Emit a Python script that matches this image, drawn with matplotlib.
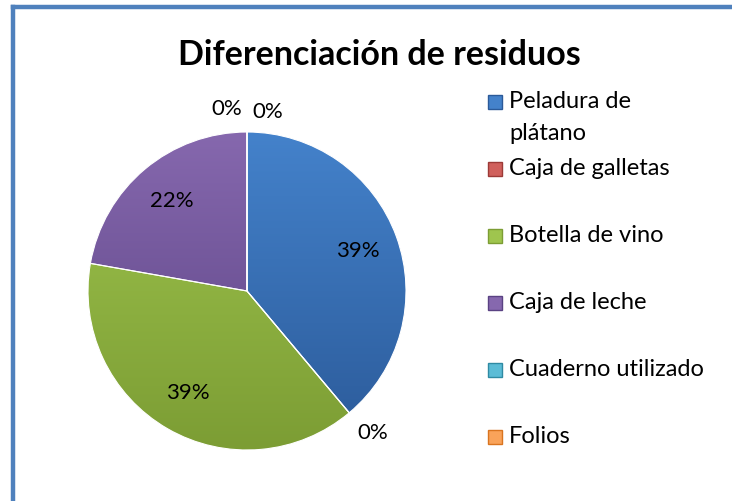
import numpy as np
import matplotlib
matplotlib.use("Agg")
import matplotlib.pyplot as plt
from matplotlib.colors import LinearSegmentedColormap, to_rgb
from matplotlib.patches import Rectangle
from matplotlib.lines import Line2D

# data
categories = ["Peladura de\nplátano", "Caja de galletas", "Botella de vino",
              "Caja de leche", "Cuaderno utilizado", "Folios"]
values = [7, 0, 7, 4, 0, 0]
colors_top = ["#4482CB", "#D0605C", "#9FC54E", "#8668AE", "#5BBCD6", "#F9A35A"]
colors_bottom = ["#2B5A99", "#9C3A37", "#7C9D34", "#5A4283", "#2F8AA3", "#D9741F"]
title = "Diferenciación de residuos"

plt.rcParams["font.family"] = ["Lato", "DejaVu Sans"]

W, H = 732, 501
fig = plt.figure(figsize=(W / 100, H / 100), dpi=100)

# blue frame (only top and left visible)
fig.add_artist(Line2D([13 / W, 13 / W], [0, 1 - 7 / H], color="#4F81BD",
                      lw=3.2, solid_capstyle="projecting"))
fig.add_artist(Line2D([13 / W, 1], [1 - 7 / H, 1 - 7 / H], color="#4F81BD",
                      lw=3.2, solid_capstyle="projecting"))

fig.text(379 / W, 1 - 55 / H, title, ha="center", va="center",
         fontsize=24.5, fontweight="bold")

# pie axes
cx, cy, r = 247, 291, 159
ax = fig.add_axes([(cx - r) / W, (H - cy - r) / H, 2 * r / W, 2 * r / H])
wedges, texts = ax.pie(values, startangle=90, counterclock=False,
                       colors=colors_top, radius=1,
                       wedgeprops=dict(linewidth=0.8, edgecolor="#ffffff"))
ax.set_xlim(-1, 1)
ax.set_ylim(-1, 1)
ax.set_aspect("equal")
ax.axis("off")

# gradient fill per wedge
yy = np.linspace(1, 0, 256).reshape(-1, 1) * np.ones((1, 2))
for w, ct, cb in zip(wedges, colors_top, colors_bottom):
    cmap = LinearSegmentedColormap.from_list("g", [to_rgb(cb), to_rgb(ct)])
    im = ax.imshow(yy, cmap=cmap, extent=[-1, 1, -1, 1], aspect="auto",
                   zorder=w.get_zorder() + 0.1, interpolation="bilinear")
    im.set_clip_path(w)
    w.set_facecolor("none")
    w.set_zorder(w.get_zorder() + 0.2)

# percentage labels
total = sum(values)
zero_labels = {}
for w, v in zip(wedges, values):
    mid = np.deg2rad((w.theta1 + w.theta2) / 2)
    pct = "{:.0f}%".format(100 * v / total)
    c, s = np.cos(mid), np.sin(mid)
    if v > 0:
        ax.text(0.74 * c, 0.74 * s, pct, ha="center", va="center",
                fontsize=16, zorder=10)
    else:
        ha = "center" if abs(c) < 0.1 else ("left" if c > 0 else "right")
        va = "center" if abs(s) < 0.1 else ("bottom" if s > 0 else "top")
        t = ax.text(1.08 * c, 1.08 * s, pct, ha=ha, va=va,
                    fontsize=16, zorder=10)
        zero_labels.setdefault(round(w.theta1, 1), []).append(t)

# spread zero labels that share the same angle
for ts in zero_labels.values():
    if len(ts) > 1:
        offs = np.linspace(-0.13, 0.13, len(ts))
        for t, o in zip(ts, offs):
            x, y = t.get_position()
            t.set_position((x + o, y - 0.02 * (o > 0)))

# legend drawn manually
lx, ly0, step, sz = 488, 102, 66.9, 14
for i, (lab, ct, cb) in enumerate(zip(categories, colors_top, colors_bottom)):
    y = ly0 + i * step
    sq = Rectangle((lx / W, 1 - (y + sz / 2) / H), sz / W, sz / H,
                   transform=fig.transFigure, facecolor=ct, edgecolor=cb, lw=1)
    fig.add_artist(sq)
    first, *rest = lab.split("\n")
    fig.text((lx + 21) / W, 1 - y / H, first, ha="left", va="center",
             fontsize=17)
    for j, line in enumerate(rest):
        fig.text((lx + 21) / W, 1 - (y + 31 * (j + 1)) / H, line,
                 ha="left", va="center", fontsize=17)

fig.savefig("out.png", dpi=100)
